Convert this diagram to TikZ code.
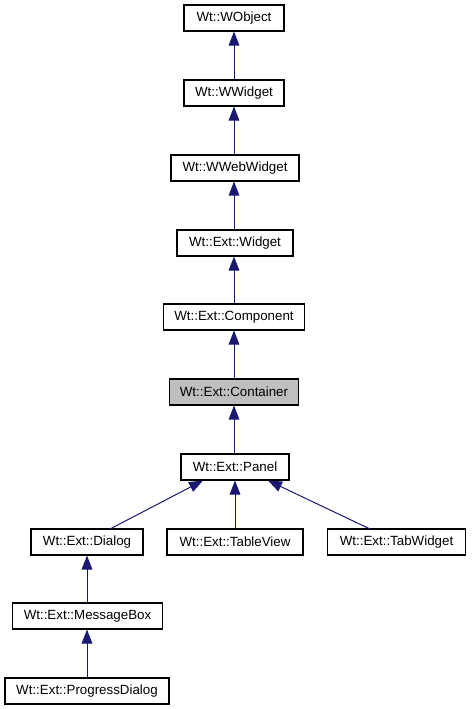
\documentclass[tikz,border=0pt]{standalone}
\usepackage{fontspec}
\setmainfont{Liberation Sans}
\usetikzlibrary{arrows.meta}
\definecolor{edgeblue}{HTML}{191970}
\definecolor{hilite}{HTML}{BFBFBF}
\begin{document}
\begin{tikzpicture}[x=0.75pt,y=-0.75pt,
  cls/.style={draw=black,line width=0.8pt,fill=white,minimum height=19.5pt,inner sep=0pt,font=\fontsize{10}{12}\selectfont,anchor=center},
  cur/.style={cls,fill=hilite},
  inh/.style={draw=edgeblue,line width=0.75pt,-{Triangle[length=10.5pt,width=8pt,fill=edgeblue]}}]
\useasboundingbox (0,0) rectangle (471,709);
\node[cls,minimum width=75pt] (wobj) at (234,18) {Wt::WObject};
\node[cls,minimum width=75pt] (wwid) at (234,93) {Wt::WWidget};
\node[cls,minimum width=96pt] (wweb) at (235,168) {Wt::WWebWidget};
\node[cls,minimum width=87pt] (ewid) at (235,243) {Wt::Ext::Widget};
\node[cls,minimum width=106pt] (comp) at (234,317) {Wt::Ext::Component};
\node[cur,minimum width=97pt] (cont) at (234,392) {Wt::Ext::Container};
\node[cls,minimum width=81pt] (panel) at (235,467) {Wt::Ext::Panel};
\node[cls,minimum width=84pt] (dlg) at (87,542) {Wt::Ext::Dialog};
\node[cls,minimum width=102pt] (tview) at (235,542) {Wt::Ext::TableView};
\node[cls,minimum width=104pt] (tabw) at (396.5,542) {Wt::Ext::TabWidget};
\node[cls,minimum width=113pt] (mbox) at (87.5,616) {Wt::Ext::MessageBox};
\node[cls,minimum width=123pt] (prog) at (87,691) {Wt::Ext::ProgressDialog};
\draw[inh] (wwid) -- (wobj);
\draw[inh] (wweb.north -| wwid.south) -- (wwid);
\draw[inh] (ewid.north -| wwid.south) -- (wwid.south |- wweb.south);
\draw[inh] (comp.north -| wwid.south) -- (wwid.south |- ewid.south);
\draw[inh] (cont.north -| wwid.south) -- (wwid.south |- comp.south);
\draw[inh] (panel.north -| wwid.south) -- (wwid.south |- cont.south);
\coordinate (pl) at (203,480.5);
\coordinate (pr) at (268,480.5);
\coordinate (dl) at (110,529);
\coordinate (tr) at (370,529);
\draw[inh] (dl) -- (pl);
\draw[inh] (tview) -- (panel);
\draw[inh] (tr) -- (pr);
\draw[inh] (mbox.north -| dlg.south) -- (dlg);
\draw[inh] (prog.north -| dlg.south) -- (dlg.south |- mbox.south);
\end{tikzpicture}
\end{document}
